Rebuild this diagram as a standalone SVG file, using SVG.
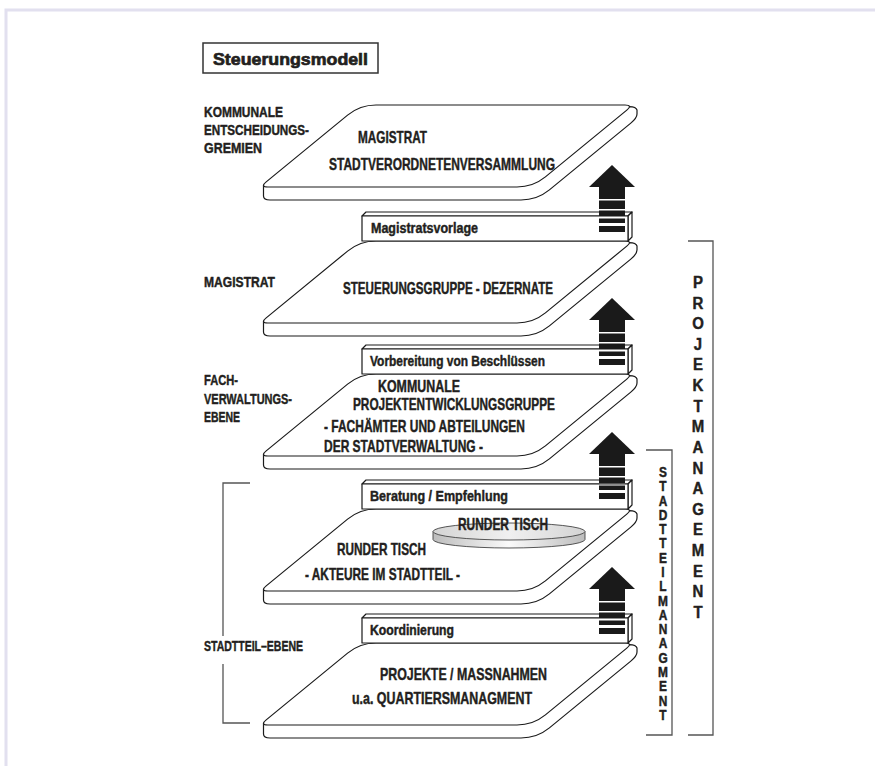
<svg xmlns="http://www.w3.org/2000/svg" xmlns:xlink="http://www.w3.org/1999/xlink" width="875" height="766" viewBox="0 0 875 766">
<style>
.ln{fill:#fff;stroke:#1a1a1a;stroke-width:1.2;stroke-linejoin:round}
.t{font-family:"Liberation Sans",Arial,sans-serif;font-weight:bold;fill:#231f20;stroke:#231f20;stroke-width:0.45;stroke-linejoin:round}
.s16{font-size:17px}
.s15{font-size:15.5px}
.s14{font-size:14.5px}
.br{fill:none;stroke:#555;stroke-width:1.3}
.ar{fill:#1a1a1a}
</style>
<defs>
<g id="slab">
<path class="ln" d="M263.5,80.4 L263.5,91 Q263.5,95 270,95 L521,95 Q537,95 549.4,84.9 L630.8,18.1 Q637,13 637,9 L637,5 Q636,1.6 629.5,1.6 Z"/>
<path class="ln" d="M376,0 L625,0 Q633,0 626.8,5.1 L545.4,71.9 Q533,82 517,82 L268,82 Q260,82 266.2,76.9 L347.6,10.1 Q360,0 376,0 Z"/>
</g>
<g id="lbox">
<path class="ln" d="M362,-25 L366,-29 L632,-29 L628,-25 Z"/>
<path class="ln" d="M628,-25 L632,-29 L632,-4 L628,0 Z"/>
<rect class="ln" x="362" y="-25" width="266" height="25"/>
</g>
<g id="arrow">
<polygon class="ar" points="589,22 612,0 635,22"/>
<rect class="ar" x="599" y="21.5" width="26" height="12.5"/>
<rect class="ar" x="599" y="35.5" width="26" height="8.5"/>
<rect class="ar" x="599" y="45.5" width="26" height="5.5"/>
<rect class="ar" x="599" y="53.5" width="26" height="4.5"/>
<rect class="ar" x="599" y="61" width="26" height="6"/>
</g>
<linearGradient id="disc" x1="0" y1="0" x2="1" y2="0">
<stop offset="0" stop-color="#bdbdbd"/>
<stop offset="0.5" stop-color="#fafafa"/>
<stop offset="1" stop-color="#bdbdbd"/>
</linearGradient>
<linearGradient id="discTop" x1="0" y1="0" x2="1" y2="0">
<stop offset="0" stop-color="#d4d4d4"/>
<stop offset="0.5" stop-color="#f0f0f0"/>
<stop offset="1" stop-color="#d4d4d4"/>
</linearGradient>
</defs>

<path d="M6,766 L6,10 L875,10" fill="none" stroke="#e2e0ef" stroke-width="3"/>

<g id="title">
<rect x="203" y="43" width="175" height="30" fill="#fff" stroke="#333" stroke-width="1.5"/>
<text class="t" x="213" y="65" font-size="17" textLength="155" lengthAdjust="spacingAndGlyphs" style="stroke-width:0.7">Steuerungsmodell</text>
</g>

<g id="labels-left">
<text class="t s15" x="204" y="117" textLength="79" lengthAdjust="spacingAndGlyphs">KOMMUNALE</text>
<text class="t s15" x="204" y="135" textLength="105" lengthAdjust="spacingAndGlyphs">ENTSCHEIDUNGS-</text>
<text class="t s15" x="204" y="153" textLength="58" lengthAdjust="spacingAndGlyphs">GREMIEN</text>
<text class="t s15" x="204" y="287" textLength="71" lengthAdjust="spacingAndGlyphs">MAGISTRAT</text>
<text class="t s15" x="204" y="385" textLength="34" lengthAdjust="spacingAndGlyphs">FACH-</text>
<text class="t s15" x="204" y="404" textLength="88" lengthAdjust="spacingAndGlyphs">VERWALTUNGS-</text>
<text class="t s15" x="204" y="422" textLength="36" lengthAdjust="spacingAndGlyphs">EBENE</text>
<text class="t s15" x="204" y="651" textLength="99" lengthAdjust="spacingAndGlyphs">STADTTEIL–EBENE</text>
</g>

<g id="bracket-stadtteil-ebene">
<path class="br" d="M250,483 L223,483 L223,636 M223,664 L223,723 L250,723"/>
</g>

<g id="slab-gremien">
<use href="#slab" transform="translate(0,105)"/>
<text class="t s16" x="358" y="143" textLength="69" lengthAdjust="spacingAndGlyphs">MAGISTRAT</text>
<text class="t s16" x="329" y="170" textLength="226" lengthAdjust="spacingAndGlyphs">STADTVERORDNETENVERSAMMLUNG</text>
</g>

<g id="slab-magistrat">
<use href="#slab" transform="translate(0,241)"/>
<text class="t s16" x="343" y="294" textLength="210" lengthAdjust="spacingAndGlyphs">STEUERUNGSGRUPPE - DEZERNATE</text>
</g>
<g id="box-magistratsvorlage">
<use href="#lbox" transform="translate(0,241)"/>
<text class="t s14" x="371" y="233" textLength="107" lengthAdjust="spacingAndGlyphs">Magistratsvorlage</text>
</g>

<g id="slab-fachverwaltung">
<use href="#slab" transform="translate(0,374)"/>
<text class="t s16" x="378" y="392" textLength="82" lengthAdjust="spacingAndGlyphs">KOMMUNALE</text>
<text class="t s16" x="353" y="410" textLength="202" lengthAdjust="spacingAndGlyphs">PROJEKTENTWICKLUNGSGRUPPE</text>
<text class="t s16" x="324" y="432" textLength="201" lengthAdjust="spacingAndGlyphs">- FACHÄMTER UND ABTEILUNGEN</text>
<text class="t s16" x="324" y="452" textLength="159" lengthAdjust="spacingAndGlyphs">DER STADTVERWALTUNG -</text>
</g>
<g id="box-vorbereitung">
<use href="#lbox" transform="translate(0,374)"/>
<text class="t s14" x="370" y="366" textLength="175" lengthAdjust="spacingAndGlyphs">Vorbereitung von Beschlüssen</text>
</g>

<g id="slab-runder-tisch">
<use href="#slab" transform="translate(0,509)"/>
<path d="M433,531.5 L433,539.5 A76,8.5 0 0 0 585,539.5 L585,531.5 Z" fill="url(#disc)" stroke="#444" stroke-width="0.9"/>
<ellipse cx="509" cy="531.5" rx="76" ry="8.5" fill="url(#discTop)" stroke="#444" stroke-width="0.9"/>
<text class="t s16" x="458" y="530" textLength="90" lengthAdjust="spacingAndGlyphs">RUNDER TISCH</text>
<text class="t s16" x="337" y="555" textLength="89" lengthAdjust="spacingAndGlyphs">RUNDER TISCH</text>
<text class="t s16" x="305" y="580" textLength="155" lengthAdjust="spacingAndGlyphs">- AKTEURE IM STADTTEIL -</text>
</g>
<g id="box-beratung">
<use href="#lbox" transform="translate(0,509)"/>
<text class="t s14" x="370" y="501" textLength="138" lengthAdjust="spacingAndGlyphs">Beratung / Empfehlung</text>
</g>

<g id="slab-projekte">
<use href="#slab" transform="translate(0,643)"/>
<text class="t s16" x="380" y="680" textLength="167" lengthAdjust="spacingAndGlyphs">PROJEKTE / MASSNAHMEN</text>
<text class="t s16" x="352" y="704" textLength="180" lengthAdjust="spacingAndGlyphs">u.a. QUARTIERSMANAGMENT</text>
</g>
<g id="box-koordinierung">
<use href="#lbox" transform="translate(0,643)"/>
<text class="t s14" x="370" y="635" textLength="84" lengthAdjust="spacingAndGlyphs">Koordinierung</text>
</g>

<g id="connectors">
<use href="#arrow" transform="translate(0,165)"/>
<use href="#arrow" transform="translate(0,298)"/>
<use href="#arrow" transform="translate(0,432)"/>
<use href="#arrow" transform="translate(0,567)"/>
</g>

<g id="bracket-stadtteilmanagment">
<path class="br" d="M646,450 L672,450 L672,735 L646,735"/>
<text class="t" font-size="14" text-anchor="middle" transform="translate(663,0) scale(0.85,1)" x="0 0 0 0 0 0 0 0 0 0 0 0 0 0 0 0 0 0" y="477 491.3 505.6 519.9 534.2 548.4 562.7 577 591.3 605.6 619.9 634.2 648.5 662.7 677 691.3 705.6 720">STADTTEILMANAGMENT</text>
</g>

<g id="bracket-projektmanagement">
<path class="br" d="M688,241 L713,241 L713,735 L688,735"/>
<text class="t" font-size="17" text-anchor="middle" transform="translate(698,0) scale(0.88,1)" x="0 0 0 0 0 0 0 0 0 0 0 0 0 0 0 0 0" y="288 308.6 329.3 349.9 370.5 391.1 411.8 432.4 453 473.6 494.3 514.9 535.5 556.1 576.8 597.4 618">PROJEKTMANAGEMENT</text>
</g>
</svg>
